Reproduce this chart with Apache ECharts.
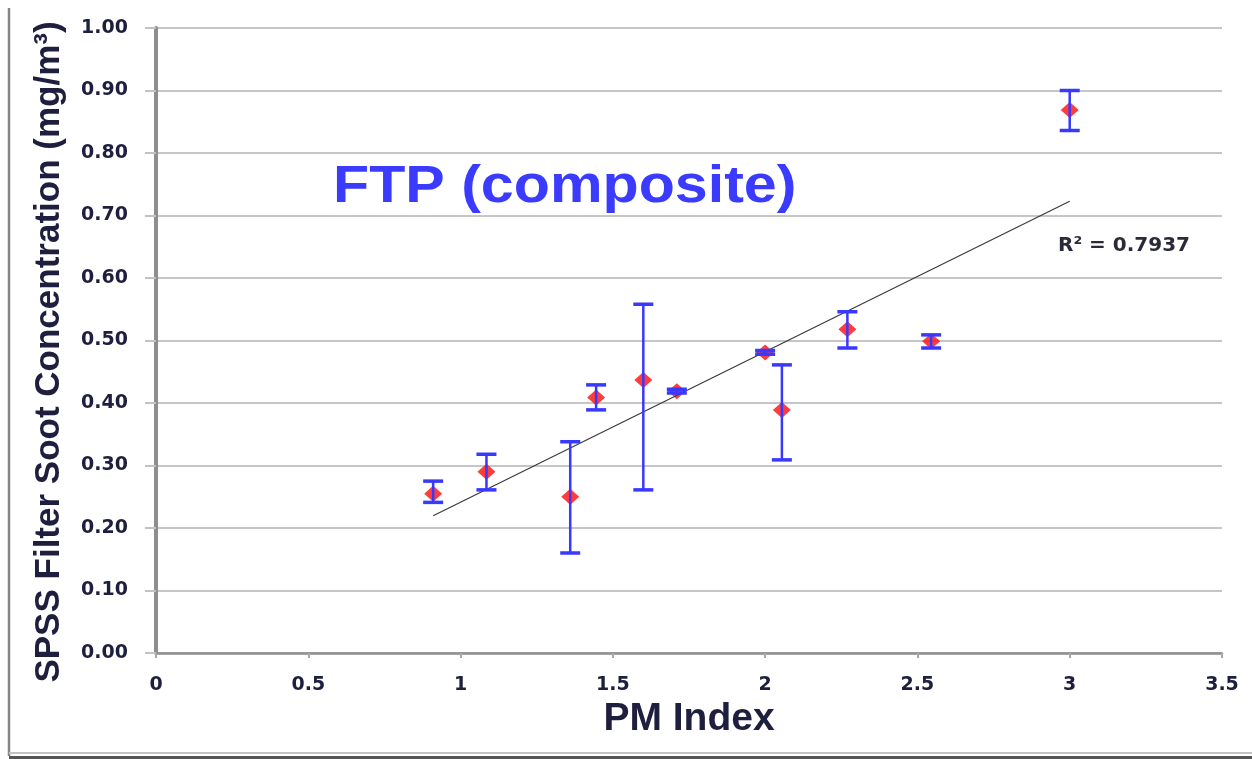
<!DOCTYPE html>
<html>
<head>
<meta charset="utf-8">
<title>FTP (composite)</title>
<script src="https://cdn.jsdelivr.net/npm/echarts@6/dist/echarts.min.js"></script>
<style>
  html, body { margin: 0; padding: 0; background: #ffffff; }
  #chart { width: 1252px; height: 759px; }
</style>
</head>
<body>
<div id="chart"></div>
<script>
// Measured soot concentration vs. PM index, with min/max error bars
const pmIndex  = [0.91, 1.085, 1.36, 1.445, 1.60, 1.71, 2.00, 2.055, 2.27, 2.545, 3.00];
const sootConc = [0.255, 0.290, 0.250, 0.409, 0.437, 0.419, 0.481, 0.389, 0.518, 0.499, 0.869];
const errLow   = [0.241, 0.261, 0.160, 0.389, 0.261, 0.416, 0.478, 0.309, 0.488, 0.488, 0.836];
const errHigh  = [0.275, 0.318, 0.338, 0.429, 0.558, 0.422, 0.484, 0.461, 0.546, 0.509, 0.900];

// Axis tick values
const xTicks = [0, 0.5, 1, 1.5, 2, 2.5, 3, 3.5];
const yTicks = [0, 0.1, 0.2, 0.3, 0.4, 0.5, 0.6, 0.7, 0.8, 0.9, 1.0];

const chartTitle = 'FTP (composite)';
const xTitle = 'PM Index';
const yTitle = 'SPSS Filter Soot Concentration (mg/m³)';
const rSquaredText = 'R² = 0.7937';

// Ordinary least-squares linear trend through the measured points
function linearFit(xs, ys) {
  const n = xs.length;
  const mx = xs.reduce((a, b) => a + b, 0) / n;
  const my = ys.reduce((a, b) => a + b, 0) / n;
  let sxy = 0, sxx = 0;
  for (let i = 0; i < n; i++) {
    sxy += (xs[i] - mx) * (ys[i] - my);
    sxx += (xs[i] - mx) * (xs[i] - mx);
  }
  const slope = sxy / sxx;
  return { slope, intercept: my - slope * mx };
}
const fit = linearFit(pmIndex, sootConc);
const xFirst = Math.min(...pmIndex);
const xLast = Math.max(...pmIndex);
const trendPoints = [
  [xFirst, fit.intercept + fit.slope * xFirst],
  [xLast, fit.intercept + fit.slope * xLast]
];

const labelColor = '#1e1e3e';
const tickFont = '"DejaVu Sans", sans-serif';
const titleFont = '"Liberation Sans", Arial, sans-serif';

const chart = echarts.init(document.getElementById('chart'), null, { renderer: 'canvas' });

chart.setOption({
  animation: false,
  backgroundColor: '#ffffff',
  grid: { left: 156, right: 30, top: 28, bottom: 106, containLabel: false },
  xAxis: {
    type: 'value',
    min: xTicks[0],
    max: xTicks[xTicks.length - 1],
    interval: xTicks[1] - xTicks[0],
    name: xTitle,
    nameLocation: 'middle',
    nameGap: 47,
    nameTextStyle: { fontFamily: titleFont, fontWeight: 'bold', fontSize: 39, color: labelColor },
    axisLine: { show: true, onZero: true, lineStyle: { color: '#8e8e8e', width: 2.5 } },
    axisTick: { show: true, length: 5, lineStyle: { color: '#a8a8a8', width: 2 } },
    splitLine: { show: false },
    axisLabel: {
      margin: 23,
      fontFamily: tickFont, fontWeight: 'bold', fontSize: 19, color: labelColor,
      formatter: v => String(v)
    }
  },
  yAxis: {
    type: 'value',
    min: yTicks[0],
    max: yTicks[yTicks.length - 1],
    interval: 0.1,
    axisLine: { show: true, lineStyle: { color: '#8e8e8e', width: 4 } },
    axisTick: { show: true, length: 11, lineStyle: { color: '#c2c2c2', width: 2 } },
    splitLine: { show: true, lineStyle: { color: '#c6c6c6', width: 2 } },
    axisLabel: {
      margin: 28,
      fontFamily: tickFont, fontWeight: 'bold', fontSize: 19, color: labelColor,
      formatter: v => v.toFixed(2)
    }
  },
  series: [
    {
      name: 'Soot',
      type: 'scatter',
      data: pmIndex.map((x, i) => [x, sootConc[i]]),
      symbol: 'diamond',
      symbolSize: [18, 16],
      itemStyle: { color: '#ff0d0d' },
      z: 2
    },
    {
      name: 'Linear trend',
      type: 'line',
      data: trendPoints,
      showSymbol: false,
      silent: true,
      lineStyle: { color: '#3a3a3a', width: 1.2 },
      z: 3
    },
    {
      name: 'Range',
      type: 'custom',
      data: pmIndex.map((x, i) => [x, errLow[i], errHigh[i]]),
      encode: { x: 0, y: [1, 2] },
      z: 4,
      renderItem: function (params, api) {
        const x = api.value(0);
        const lo = api.coord([x, api.value(1)]);
        const hi = api.coord([x, api.value(2)]);
        const hw = 10;
        const stem = { stroke: '#3838ff', lineWidth: 2.5 };
        const cap = { stroke: '#3838ff', lineWidth: 3.5 };
        return {
          type: 'group',
          children: [
            { type: 'line', shape: { x1: lo[0], y1: lo[1], x2: hi[0], y2: hi[1] }, style: stem },
            { type: 'line', shape: { x1: hi[0] - hw, y1: hi[1], x2: hi[0] + hw, y2: hi[1] }, style: cap },
            { type: 'line', shape: { x1: lo[0] - hw, y1: lo[1], x2: lo[0] + hw, y2: lo[1] }, style: cap }
          ]
        };
      }
    }
  ],
  graphic: [
    {
      type: 'text',
      x: 333, y: 188,
      scaleX: 1.16,
      style: {
        text: chartTitle,
        font: 'bold 51px ' + titleFont,
        fill: '#3b3bff',
        align: 'left',
        verticalAlign: 'middle'
      },
      z: 10
    },
    {
      // vertical axis title, reading bottom to top
      type: 'text',
      x: 49, y: 352,
      rotation: Math.PI / 2,
      style: {
        text: yTitle,
        font: 'bold 35px ' + titleFont,
        fill: labelColor,
        align: 'center',
        verticalAlign: 'middle'
      },
      z: 10
    },
    {
      type: 'text',
      x: 1058, y: 246,
      style: {
        text: rSquaredText,
        font: 'bold 20px ' + tickFont,
        fill: '#2a2a3a',
        align: 'left',
        verticalAlign: 'middle'
      },
      z: 10
    },
    // chart frame: left edge and double bottom edge
    { type: 'line', shape: { x1: 9, y1: 8, x2: 9, y2: 756 }, style: { stroke: '#858585', lineWidth: 2.5 }, z: 10 },
    { type: 'line', shape: { x1: 9, y1: 753, x2: 1252, y2: 753 }, style: { stroke: '#c4c4c4', lineWidth: 2 }, z: 10 },
    { type: 'line', shape: { x1: 9, y1: 757.5, x2: 1252, y2: 757.5 }, style: { stroke: '#555555', lineWidth: 3 }, z: 10 }
  ]
});
</script>
</body>
</html>
